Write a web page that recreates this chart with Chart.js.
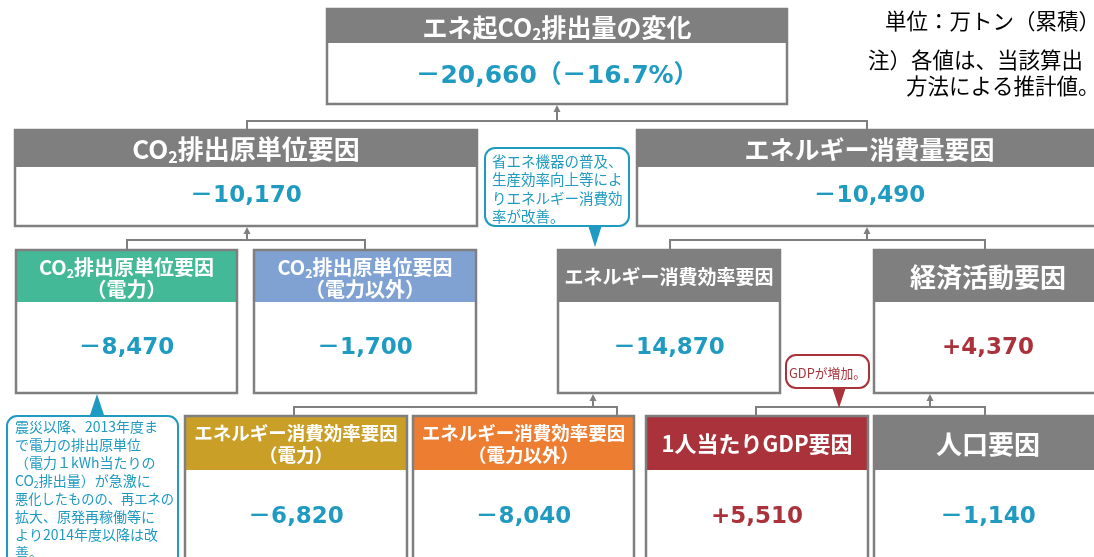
<!DOCTYPE html>
<html>
<head>
<meta charset="utf-8">
<script src="https://cdn.jsdelivr.net/npm/chart.js@4"></script>
<style>
  body { margin: 0; background: #fff; }
  #wrap { width: 1094px; height: 557px; position: relative; }
</style>
</head>
<body>
<div id="wrap"><canvas id="myChart"></canvas></div>
<script>
// values (万トン, cumulative)
var boxTitles = [
	["エネ起CO₂排出量の変化"],
	["CO₂排出原単位要因"],
	["エネルギー消費量要因"],
	["CO₂排出原単位要因", "（電力）"],
	["CO₂排出原単位要因", "（電力以外）"],
	["エネルギー消費効率要因"],
	["経済活動要因"],
	["エネルギー消費効率要因", "（電力）"],
	["エネルギー消費効率要因", "（電力以外）"],
	["1人当たりGDP要因"],
	["人口要因"],
];
var boxValues = [-20660, -10170, -10490, -8470, -1700, -14870, 4370, -6820, -8040, 5510, -1140];
var totalPct = -16.7;

var unitNote = "単位：万トン（累積）";
var footNote = ["注）各値は、当該算出", "方法による推計値。"];
var noteEnergy = ["省エネ機器の普及、", "生産効率向上等によ", "りエネルギー消費効", "率が改善。"];
var noteGdp = ["GDPが増加。"];
var noteQuake = ["震災以降、2013年度ま", "で電力の排出原単位", "（電力１kWh当たりの", "CO₂排出量）が急激に",
	"悪化したものの、再エネの", "拡大、原発再稼働等に", "より2014年度以降は改", "善。"];

// layout, in axis units: [x0, x1, y0, y1, header bottom]
var boxLayout = [
	[327, 787, 9, 104, 43],
	[15, 477, 130, 226, 167],
	[637, 1102, 130, 226, 167],
	[16, 237, 250, 393, 302],
	[254, 476, 250, 393, 302],
	[558, 780, 250, 393, 302],
	[874, 1102, 250, 393, 302],
	[185, 407, 416, 580, 470],
	[413, 634, 416, 580, 470],
	[646, 868, 416, 580, 470],
	[874, 1102, 416, 580, 470],
];
var valueY = [76, 196, 196, 348, 348, 348, 348, 517, 517, 517, 517];
var valueSize = [25, 23, 23, 23, 23, 23, 23, 23, 23, 23, 23];
var titleY = [[27], [149], [149], [267, 289], [267, 289], [277], [277], [433, 455], [433, 455], [444], [444]];
var titleSize = [25, 26, 25, 20, 20, 19, 26, 18.5, 18.5, 22, 26];
var headColors = ["#7f7f7f", "#7f7f7f", "#7f7f7f", "#43b997", "#7fa2d2", "#7f7f7f", "#7f7f7f",
	"#c99f28", "#ed7d31", "#a9323b", "#7f7f7f"];

var links = [
	{ bar: 121, ends: [247, 867], childTop: 130, arrow: 557, parentBottom: 104 },
	{ bar: 240, ends: [127, 365], childTop: 250, arrow: 247, parentBottom: 226 },
	{ bar: 240, ends: [670, 985], childTop: 250, arrow: 867, parentBottom: 226 },
	{ bar: 407, ends: [294, 617], childTop: 416, arrow: 593, parentBottom: 393 },
	{ bar: 407, ends: [756, 985], childTop: 416, arrow: 930, parentBottom: 393 },
];

var callouts = [
	{ lines: noteEnergy, box: [485, 629, 148, 226], tip: [595, 247], base: [588, 602, 226], color: "#1f9ac0",
		textX: 492, firstY: 161, lineH: 18.5, size: 14.5, align: "left" },
	{ lines: noteGdp, box: [786, 869, 355, 388], tip: [839, 408], base: [832, 846, 388], color: "#a9323b",
		textX: 827.5, firstY: 373, lineH: 18, size: 13, align: "center" },
	{ lines: noteQuake, box: [7, 178, 416, 590], tip: [97, 394], base: [90, 104, 416], color: "#1f9ac0",
		textX: 15, firstY: 427, lineH: 18, size: 14, align: "left" },
];

const CJK = '"Noto Sans CJK JP", sans-serif';
const NUM = '"DejaVu Sans", "Noto Sans CJK JP", sans-serif';

function fmt(v) {
	var s = Math.abs(v).toLocaleString("en-US");
	return (v < 0 ? "－" : "+") + s;
}

// draws text, with ₂ as a subscript
function drawRich(ctx, str, x, y, size, weight, family, align, maxW) {
	var parts = [];
	var buf = "";
	for (const ch of str) {
		if (ch === "₂") {
			if (buf) parts.push({ t: buf, sub: false });
			buf = "";
			parts.push({ t: "2", sub: true });
		} else buf += ch;
	}
	if (buf) parts.push({ t: buf, sub: false });
	var total = 0;
	parts.forEach(function (p) {
		p.size = p.sub ? size * 0.62 : size;
		ctx.font = weight + " " + p.size + "px " + family;
		p.w = ctx.measureText(p.t).width;
		total += p.w;
	});
	var k = maxW && total > maxW ? maxW / total : 1;
	var cx = align === "center" ? x - (total * k) / 2 : x;
	parts.forEach(function (p) {
		ctx.font = weight + " " + p.size + "px " + family;
		ctx.fillText(p.t, cx, p.sub ? y + size * 0.3 : y, p.w * k);
		cx += p.w * k;
	});
}

const treePlugin = {
	id: "tree",
	afterDraw(chart) {
		const ctx = chart.ctx;
		const xs = chart.scales.x, ys = chart.scales.y;
		const px = (v) => xs.getPixelForValue(v);
		const py = (v) => ys.getPixelForValue(v);
		ctx.save();
		ctx.textBaseline = "middle";
		ctx.textAlign = "left";

		// connectors
		ctx.strokeStyle = "#7f7f7f";
		ctx.fillStyle = "#7f7f7f";
		ctx.lineWidth = 2;
		links.forEach(function (l) {
			ctx.beginPath();
			ctx.moveTo(px(l.ends[0]), py(l.childTop));
			ctx.lineTo(px(l.ends[0]), py(l.bar));
			ctx.lineTo(px(l.ends[1]), py(l.bar));
			ctx.lineTo(px(l.ends[1]), py(l.childTop));
			ctx.moveTo(px(l.arrow), py(l.bar));
			ctx.lineTo(px(l.arrow), py(l.parentBottom) + 5);
			ctx.stroke();
			ctx.beginPath();
			ctx.moveTo(px(l.arrow), py(l.parentBottom) + 1);
			ctx.lineTo(px(l.arrow) - 3.5, py(l.parentBottom) + 8);
			ctx.lineTo(px(l.arrow) + 3.5, py(l.parentBottom) + 8);
			ctx.closePath();
			ctx.fill();
		});

		// boxes
		boxLayout.forEach(function (b, i) {
			var x0 = px(b[0]), x1 = px(b[1]), y0 = py(b[2]), y1 = py(b[3]), hb = py(b[4]);
			ctx.fillStyle = "#ffffff";
			ctx.fillRect(x0, y0, x1 - x0, y1 - y0);
			ctx.fillStyle = headColors[i];
			ctx.fillRect(x0, y0, x1 - x0, hb - y0);
			ctx.strokeStyle = "#7f7f7f";
			ctx.lineWidth = 2.5;
			ctx.strokeRect(x0, y0, x1 - x0, y1 - y0);

			ctx.fillStyle = "#ffffff";
			var cx = (x0 + x1) / 2;
			boxTitles[i].forEach(function (t, j) {
				drawRich(ctx, t, cx, py(titleY[i][j]), titleSize[i], "bold", CJK, "center");
			});

			var txt = fmt(boxValues[i]);
			if (i === 0) txt += "（" + fmt(totalPct) + "%）";
			ctx.fillStyle = boxValues[i] < 0 ? "#1f9ac0" : "#a9323b";
			drawRich(ctx, txt, cx, py(valueY[i]), valueSize[i], "bold", NUM, "center");
		});

		// callouts
		callouts.forEach(function (c) {
			var x0 = px(c.box[0]), x1 = px(c.box[1]), y0 = py(c.box[2]), y1 = py(c.box[3]);
			ctx.fillStyle = "#ffffff";
			ctx.strokeStyle = c.color;
			ctx.lineWidth = 2;
			ctx.beginPath();
			ctx.roundRect(x0, y0, x1 - x0, y1 - y0, 10);
			ctx.fill();
			ctx.stroke();
			ctx.fillStyle = c.color;
			ctx.beginPath();
			ctx.moveTo(px(c.base[0]), py(c.base[2]) - 1);
			ctx.lineTo(px(c.tip[0]), py(c.tip[1]));
			ctx.lineTo(px(c.base[1]), py(c.base[2]) - 1);
			ctx.closePath();
			ctx.fill();
			var maxW = c.align === "center" ? x1 - x0 - 6 : x1 - px(c.textX) - 4;
			c.lines.forEach(function (t, j) {
				drawRich(ctx, t, px(c.textX), py(c.firstY + j * c.lineH), c.size, "normal", CJK, c.align, maxW);
			});
		});

		// notes, top right
		ctx.fillStyle = "#000000";
		drawRich(ctx, unitNote, px(885), py(21), 21.5, "normal", CJK, "left");
		drawRich(ctx, footNote[0], px(868), py(60), 21.5, "normal", CJK, "left");
		drawRich(ctx, footNote[1], px(906), py(86), 21.5, "normal", CJK, "left");
		ctx.restore();
	},
};

const myChart = new Chart(document.getElementById("myChart"), {
	type: "scatter",
	data: { datasets: [{ data: [] }] },
	options: {
		animation: false,
		responsive: true,
		maintainAspectRatio: false,
		layout: { padding: 0 },
		plugins: { legend: { display: false }, tooltip: { enabled: false } },
		scales: {
			x: { type: "linear", min: 0, max: 1094, display: false },
			y: { type: "linear", min: 0, max: 557, reverse: true, display: false },
		},
	},
	plugins: [treePlugin],
});
</script>
</body>
</html>
